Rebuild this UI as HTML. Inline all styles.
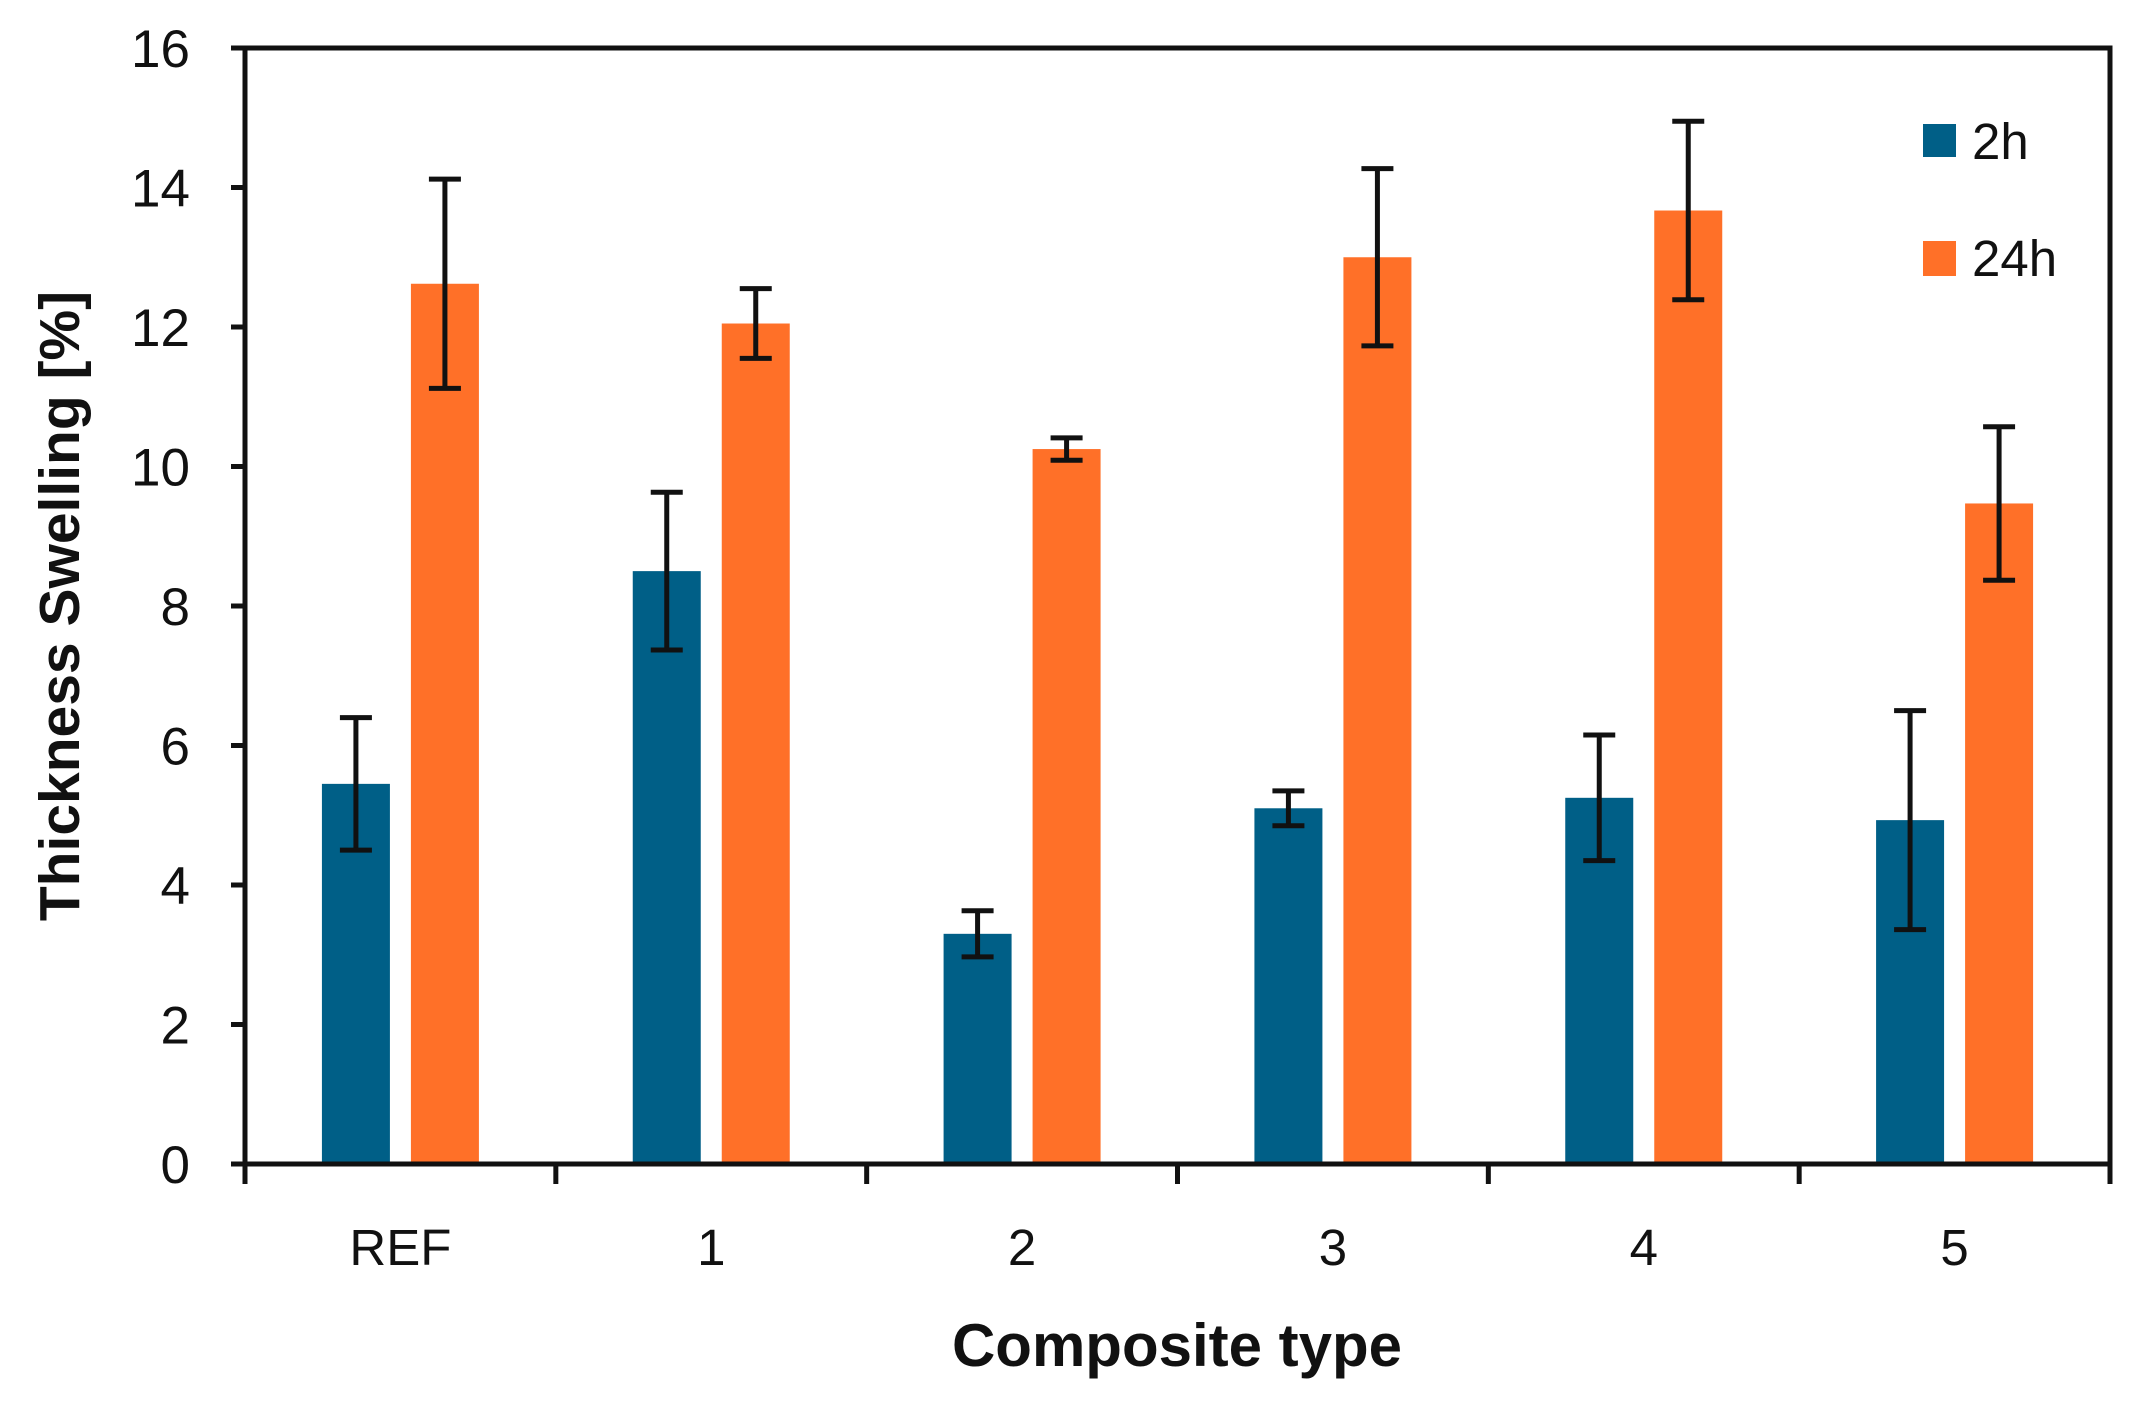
<!DOCTYPE html>
<html><head><meta charset="utf-8"><style>
html,body{margin:0;padding:0;background:#fff;}
svg{display:block;}
text{font-family:"Liberation Sans",sans-serif;fill:#111;}
</style></head><body>
<svg id="chart" width="2134" height="1402" viewBox="0 0 2134 1402" xmlns="http://www.w3.org/2000/svg">
<rect x="0" y="0" width="2134" height="1402" fill="#fff"/>
<g id="bars"></g>
<g id="axes"></g>
<text x="1177" y="1366" font-size="60" font-weight="bold" text-anchor="middle">Composite type</text>
<text transform="translate(79,606) rotate(-90)" font-size="57" font-weight="bold" text-anchor="middle">Thickness Swelling [%]</text>
<g>
<rect x="1923" y="124" width="33" height="33" fill="#005f87"/>
<text x="1972" y="159" font-size="51">2h</text>
<rect x="1923" y="241" width="33" height="35" fill="#ff7028"/>
<text x="1972" y="276" font-size="51">24h</text>
</g>
</svg>
<script>
const categories = ["REF","1","2","3","4","5"];
const values2h = [5.45, 8.5, 3.3, 5.1, 5.25, 4.93];
const err2h = [0.95, 1.13, 0.33, 0.25, 0.9, 1.57];
const values24h = [12.62, 12.05, 10.25, 13.0, 13.67, 9.47];
const err24h = [1.5, 0.5, 0.16, 1.27, 1.28, 1.1];
const yTicks = [0,2,4,6,8,10,12,14,16];

const NS = "http://www.w3.org/2000/svg";
const L = 245, R = 2110, T = 48, B = 1164, YMAX = 16;
const catW = (R - L) / categories.length;
function y(v){ return B - (v / YMAX) * (B - T); }
function xc(i){ return L + catW * (i + 0.5); }
function mk(tag, attrs, parent){
  const e = document.createElementNS(NS, tag);
  for (const k in attrs) e.setAttribute(k, attrs[k]);
  parent.appendChild(e);
  return e;
}
const bars = document.getElementById("bars");
const axes = document.getElementById("axes");
const BW = 68, OFF = 44.5;
function drawSeries(vals, errs, color, off, name){
  vals.forEach((v, i) => {
    const cx = xc(i) + off;
    const r = mk("rect", {x: cx - BW/2, y: y(v), width: BW, height: B - y(v), fill: color}, bars);
    
    
    const g = mk("g", {stroke: "#111", "stroke-width": 5}, bars);
    
    
    const hi = y(v + errs[i]), lo = y(v - errs[i]);
    mk("line", {x1: cx, x2: cx, y1: hi, y2: lo}, g);
    mk("line", {x1: cx - 16, x2: cx + 16, y1: hi, y2: hi}, g);
    mk("line", {x1: cx - 16, x2: cx + 16, y1: lo, y2: lo}, g);
  });
}
drawSeries(values2h, err2h, "#005f87", -OFF, "2h");
drawSeries(values24h, err24h, "#ff7028", OFF, "24h");

const frame = mk("rect", {x: L, y: T, width: R - L, height: B - T, fill: "none", stroke: "#111", "stroke-width": 5}, axes);


yTicks.forEach(t => {
  const ln = mk("line", {x1: L - 14, x2: L, y1: y(t), y2: y(t), stroke: "#111", "stroke-width": 5}, axes);
  
  
  const tx = mk("text", {x: 190, y: y(t) + 19, "font-size": 53, "text-anchor": "end"}, axes);
  tx.textContent = t;
  
  
});
for (let i = 0; i <= categories.length; i++){
  const x = L + catW * i;
  const ln = mk("line", {x1: x, x2: x, y1: B, y2: B + 20, stroke: "#111", "stroke-width": 5}, axes);
  
  
}
categories.forEach((c, i) => {
  const tx = mk("text", {x: xc(i), y: 1265, "font-size": 51, "text-anchor": "middle"}, axes);
  tx.textContent = c;
  
  
});
</script>
</body></html>
